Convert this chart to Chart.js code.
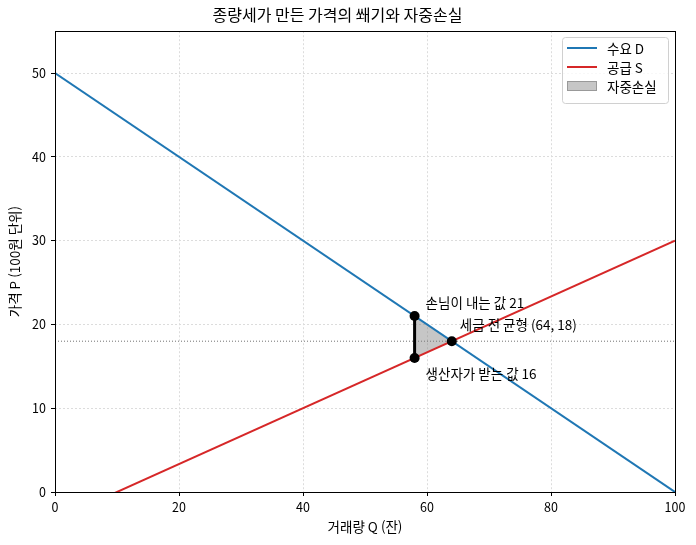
<!DOCTYPE html>
<html lang="ko">
<head>
<meta charset="UTF-8">
<title>종량세 쐐기</title>
<script src="https://cdn.jsdelivr.net/npm/chart.js"></script>
<style>
body { margin: 0; background: #fff; }
#wrap { width: 696px; height: 545px; }
</style>
</head>
<body>
<div id="wrap"><canvas id="chart" width="696" height="545"></canvas></div>
<script>
// values
const qEnds = [0, 100];
const demandP = [50, 0];
const supplyP = [-3.33, 30];
const taxQ = 58;
const buyerP = 21;
const sellerP = 16;
const eqQ = 64;
const eqP = 18;
const xTicks = [0, 20, 40, 60, 80, 100];
const yTicks = [0, 10, 20, 30, 40, 50];
const legendLabels = ["수요 D", "공급 S", "자중손실"];

const FONT = "'Noto Sans CJK KR', 'Noto Sans', sans-serif";
const BLUE = "#1f77b4";
const RED = "#d62728";

Chart.defaults.font.family = FONT;
Chart.defaults.color = "#000";

const line = (xs, ys) => xs.map((x, i) => ({ x, y: ys[i] }));

const notes = [
  { x: taxQ, y: buyerP, text: `손님이 내는 값 ${buyerP}`, dx: 11, dy: -13 },
  { x: eqQ, y: eqP, text: `세금 전 균형 (${eqQ}, ${eqP})`, dx: 8, dy: -16 },
  { x: taxQ, y: sellerP, text: `생산자가 받는 값 ${sellerP}`, dx: 11, dy: 16 }
];

const extras = {
  id: "extras",
  afterDraw(chart) {
    const { ctx, chartArea: a, scales: { x, y } } = chart;
    ctx.save();
    // frame
    ctx.strokeStyle = "#000";
    ctx.lineWidth = 1;
    ctx.strokeRect(Math.round(a.left) + 0.5, Math.round(a.top) + 0.5,
      Math.round(a.right - a.left), Math.round(a.bottom - a.top));

    // annotations
    ctx.font = "13.5px " + FONT;
    ctx.fillStyle = "#000";
    ctx.textBaseline = "middle";
    ctx.textAlign = "left";
    notes.forEach(n => {
      ctx.fillText(n.text, x.getPixelForValue(n.x) + n.dx, y.getPixelForValue(n.y) + n.dy);
    });

    // legend
    const bx = 562, by = 37, bw = 106, bh = 66;
    ctx.fillStyle = "rgba(255,255,255,0.8)";
    ctx.strokeStyle = "#d0d0d0";
    ctx.lineWidth = 1;
    ctx.beginPath();
    ctx.roundRect(bx + 0.5, by + 0.5, bw, bh, 3);
    ctx.fill();
    ctx.stroke();
    const rows = [48, 67, 86];
    ctx.lineWidth = 2;
    [BLUE, RED].forEach((c, i) => {
      ctx.strokeStyle = c;
      ctx.beginPath();
      ctx.moveTo(567, rows[i]);
      ctx.lineTo(597, rows[i]);
      ctx.stroke();
    });
    ctx.fillStyle = "rgba(128,128,128,0.45)";
    ctx.fillRect(567, rows[2] - 5, 30, 10);
    ctx.strokeStyle = "rgba(100,100,100,0.45)";
    ctx.lineWidth = 1;
    ctx.strokeRect(567.5, rows[2] - 4.5, 29, 9);
    ctx.fillStyle = "#000";
    ctx.font = "13.5px " + FONT;
    legendLabels.forEach((t, i) => ctx.fillText(t, 607, rows[i] + 1));
    ctx.restore();
  }
};

new Chart(document.getElementById("chart"), {
  type: "line",
  data: {
    datasets: [
      {
        data: [{ x: taxQ, y: buyerP }, { x: taxQ, y: sellerP }, { x: eqQ, y: eqP }],
        showLine: false, pointRadius: 5, pointBackgroundColor: "#000",
        pointBorderColor: "#000", pointBorderWidth: 0
      },
      {
        data: [{ x: taxQ, y: sellerP }, { x: taxQ, y: buyerP }],
        borderColor: "#000", borderWidth: 3, pointRadius: 0
      },
      { data: line(qEnds, supplyP), borderColor: RED, borderWidth: 2, pointRadius: 0 },
      { data: line(qEnds, demandP), borderColor: BLUE, borderWidth: 2, pointRadius: 0 },
      {
        data: [{ x: taxQ, y: buyerP }, { x: eqQ, y: eqP }, { x: taxQ, y: sellerP }, { x: taxQ, y: buyerP }],
        borderWidth: 0, pointRadius: 0, fill: "shape",
        backgroundColor: "rgba(128,128,128,0.45)", borderColor: "rgba(0,0,0,0)"
      },
      {
        data: line(qEnds, [eqP, eqP]),
        borderColor: "#707070", borderWidth: 1, borderDash: [1, 2], pointRadius: 0
      }
    ]
  },
  options: {
    responsive: false,
    animation: false,
    layout: { padding: { left: 0, right: 21, top: 0, bottom: 0 } },
    plugins: {
      legend: { display: false },
      tooltip: { enabled: false },
      title: {
        display: true,
        text: "종량세가 만든 가격의 쐐기와 자중손실",
        font: { size: 16, weight: "normal" },
        padding: { top: 5, bottom: 7 }
      }
    },
    scales: {
      x: {
        type: "linear", min: 0, max: 100,
        afterBuildTicks: s => { s.ticks = xTicks.map(v => ({ value: v })); },
        afterFit: s => { s.height = 53; },
        ticks: { font: { size: 12.5 }, padding: 4, maxRotation: 0 },
        grid: { color: "#dcdcdc", tickColor: "#000", tickLength: 4 },
        border: { display: false, dash: [2, 2] },
        title: { display: true, text: "거래량 Q (잔)", font: { size: 13.5 }, padding: { top: 0, bottom: 10 } }
      },
      y: {
        type: "linear", min: 0, max: 55,
        afterBuildTicks: s => { s.ticks = yTicks.map(v => ({ value: v })); },
        afterFit: s => { s.width = 55; },
        ticks: { font: { size: 12.5 }, padding: 5 },
        grid: { color: "#dcdcdc", tickColor: "#000", tickLength: 4 },
        border: { display: false, dash: [2, 2] },
        title: { display: true, text: "가격 P (100원 단위)", font: { size: 13.5 }, padding: { top: 7, bottom: 0 } }
      }
    }
  },
  plugins: [extras]
});
</script>
</body>
</html>
